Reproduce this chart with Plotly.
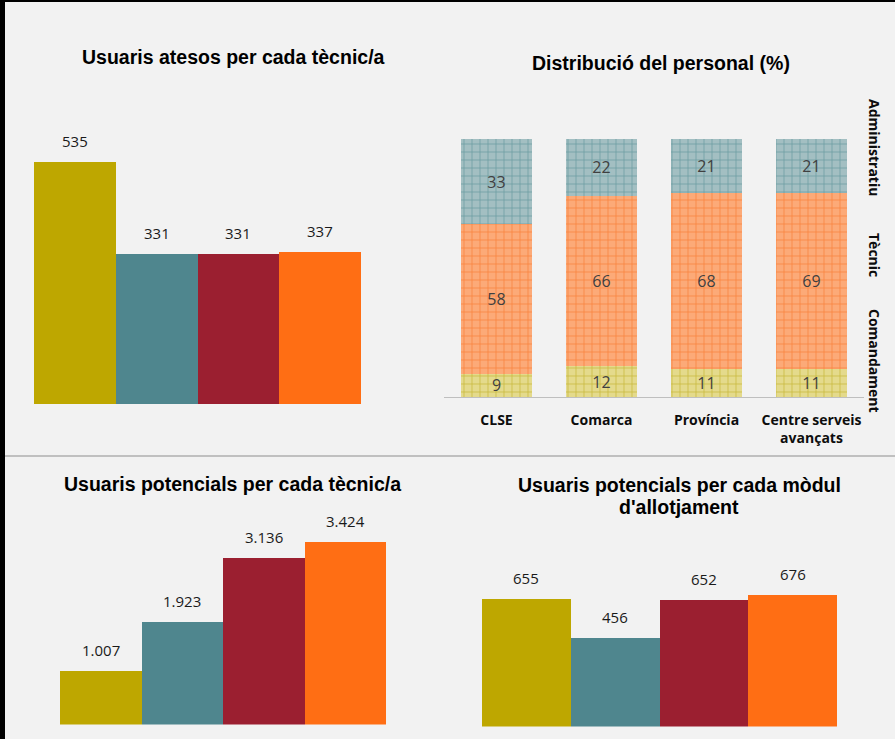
import plotly.graph_objects as go

W, H = 895, 739

# ---- data ----
regions = ["CLSE", "Comarca", "Província", "Centre serveis avançats"]
region_ticks = ["CLSE", "Comarca", "Província", "Centre serveis<br>avançats"]
bar_colors = ["#bea700", "#4f868e", "#9b1f30", "#ff6e14"]

atesos = [535, 331, 331, 337]
potencials_tecnic = [1007, 1923, 3136, 3424]
potencials_modul = [655, 456, 652, 676]

comandament = [9, 12, 11, 11]
tecnic = [58, 66, 68, 69]
administratiu = [33, 22, 21, 21]

series_names = ["Comandament", "Tècnic", "Administratiu"]
series_bg = ["#e4da8c", "#fcaa78", "#a3bfc2"]
series_fg = ["#c8b83c", "#f8823c", "#6a9ca1"]

TITLE_FONT = dict(family="Liberation Sans, Arial", size=19.5, color="#000000", weight="bold")
LABEL_FONT = dict(family="Open Sans", size=15, color="#1a1a1a")


def fmt(v):
    return f"{v:,}".replace(",", ".")


def px_x(p):
    return p / W


def px_y(p):
    return 1 - p / H


def dom_x(a, b):
    return [px_x(a), px_x(b)]


def dom_y(top, bottom):
    return [px_y(bottom), px_y(top)]


fig = go.Figure()


def single(xa, ya, values):
    fig.add_trace(go.Bar(
        x=regions, y=values, xaxis=xa, yaxis=ya, width=1,
        marker=dict(color=bar_colors, line=dict(width=0)),
        hoverinfo="skip", showlegend=False,
    ))
    for r, v in zip(regions, values):
        fig.add_annotation(
            x=r, y=v, xref=xa, yref=ya, text=fmt(v), showarrow=False,
            yanchor="middle", yshift=21, font=LABEL_FONT,
        )


single("x", "y", atesos)
single("x3", "y3", potencials_tecnic)
single("x4", "y4", potencials_modul)

# stacked 100% chart
totals = [c + t + a for c, t, a in zip(comandament, tecnic, administratiu)]
for name, vals, bg, fg in zip(series_names, [comandament, tecnic, administratiu], series_bg, series_fg):
    heights = [v / tot * 100 for v, tot in zip(vals, totals)]
    fig.add_trace(go.Bar(
        x=regions, y=heights, xaxis="x2", yaxis="y2", width=0.676, name=name,
        text=[str(v) for v in vals], textposition="inside", insidetextanchor="middle",
        textangle=0, constraintext="none",
        textfont=dict(family="Open Sans", size=16, color="#404040"),
        marker=dict(color=bg, line=dict(width=0),
                    pattern=dict(shape="+", bgcolor=bg, fgcolor=fg, size=8,
                                 solidity=0.18, fillmode="replace")),
        hoverinfo="skip", showlegend=False,
    ))

hidden = dict(visible=False, showgrid=False, zeroline=False)

fig.update_layout(
    width=W, height=H, margin=dict(l=0, r=0, t=0, b=0),
    paper_bgcolor="#f2f2f2", plot_bgcolor="rgba(0,0,0,0)",
    barmode="stack", showlegend=False,
    xaxis=dict(hidden, domain=dom_x(34, 361), range=[-0.5, 3.5], anchor="y"),
    yaxis=dict(hidden, domain=dom_y(100, 404), range=[0, 672], anchor="x"),
    xaxis2=dict(domain=dom_x(444, 864), range=[-0.5, 3.5], anchor="y2",
                showgrid=False, zeroline=False, showline=True, linecolor="#bfbfbf", linewidth=1,
                tickmode="array", tickvals=regions, ticktext=region_ticks, tickangle=0,
                ticks="outside", ticklen=10, tickcolor="rgba(0,0,0,0)",
                tickfont=dict(family="Open Sans", size=14, color="#0d0d0d", weight="bold")),
    yaxis2=dict(hidden, domain=dom_y(100, 397), range=[0, 115.1], anchor="x2"),
    xaxis3=dict(hidden, domain=dom_x(60, 386), range=[-0.5, 3.5], anchor="y3"),
    yaxis3=dict(hidden, domain=dom_y(500, 724.5), range=[0, 4223], anchor="x3"),
    xaxis4=dict(hidden, domain=dom_x(482, 837), range=[-0.5, 3.5], anchor="y4"),
    yaxis4=dict(hidden, domain=dom_y(540, 726.5), range=[0, 959], anchor="x4"),
)

# titles
titles = [
    ("Usuaris atesos per cada tècnic/a", 233.5, 57),
    ("Distribució del personal (%)", 661, 62.5),
    ("Usuaris potencials per cada tècnic/a", 232.5, 484),
    ("Usuaris potencials per cada mòdul", 679, 485),
    ("d'allotjament", 679, 506.5),
]
for text, cx, cy in titles:
    fig.add_annotation(text=text, x=px_x(cx), y=px_y(cy), xref="paper", yref="paper",
                       showarrow=False, xanchor="center", yanchor="middle", font=TITLE_FONT)

# rotated legend labels
legend_pos = [("Administratiu", 147), ("Tècnic", 255), ("Comandament", 361)]
for text, cy in legend_pos:
    fig.add_annotation(text=text, x=px_x(875), y=px_y(cy), xref="paper", yref="paper",
                       showarrow=False, textangle=90, xanchor="center", yanchor="middle",
                       font=dict(family="Open Sans", size=14, color="#0d0d0d", weight="bold"))

# frame: black left and top borders, grey separator
fig.add_shape(type="rect", xref="paper", yref="paper", x0=0, x1=px_x(5), y0=0, y1=1,
              fillcolor="#000000", line=dict(width=0), layer="above")
fig.add_shape(type="rect", xref="paper", yref="paper", x0=0, x1=1, y0=px_y(2), y1=1,
              fillcolor="#000000", line=dict(width=0), layer="above")
fig.add_shape(type="line", xref="paper", yref="paper", x0=px_x(5), x1=1, y0=px_y(456), y1=px_y(456),
              line=dict(color="#c0c0c0", width=2), layer="above")

fig.write_html(
    "out.html",
    config={"displayModeBar": False},
    post_script="document.body.style.margin='0';document.body.style.padding='0';",
)
